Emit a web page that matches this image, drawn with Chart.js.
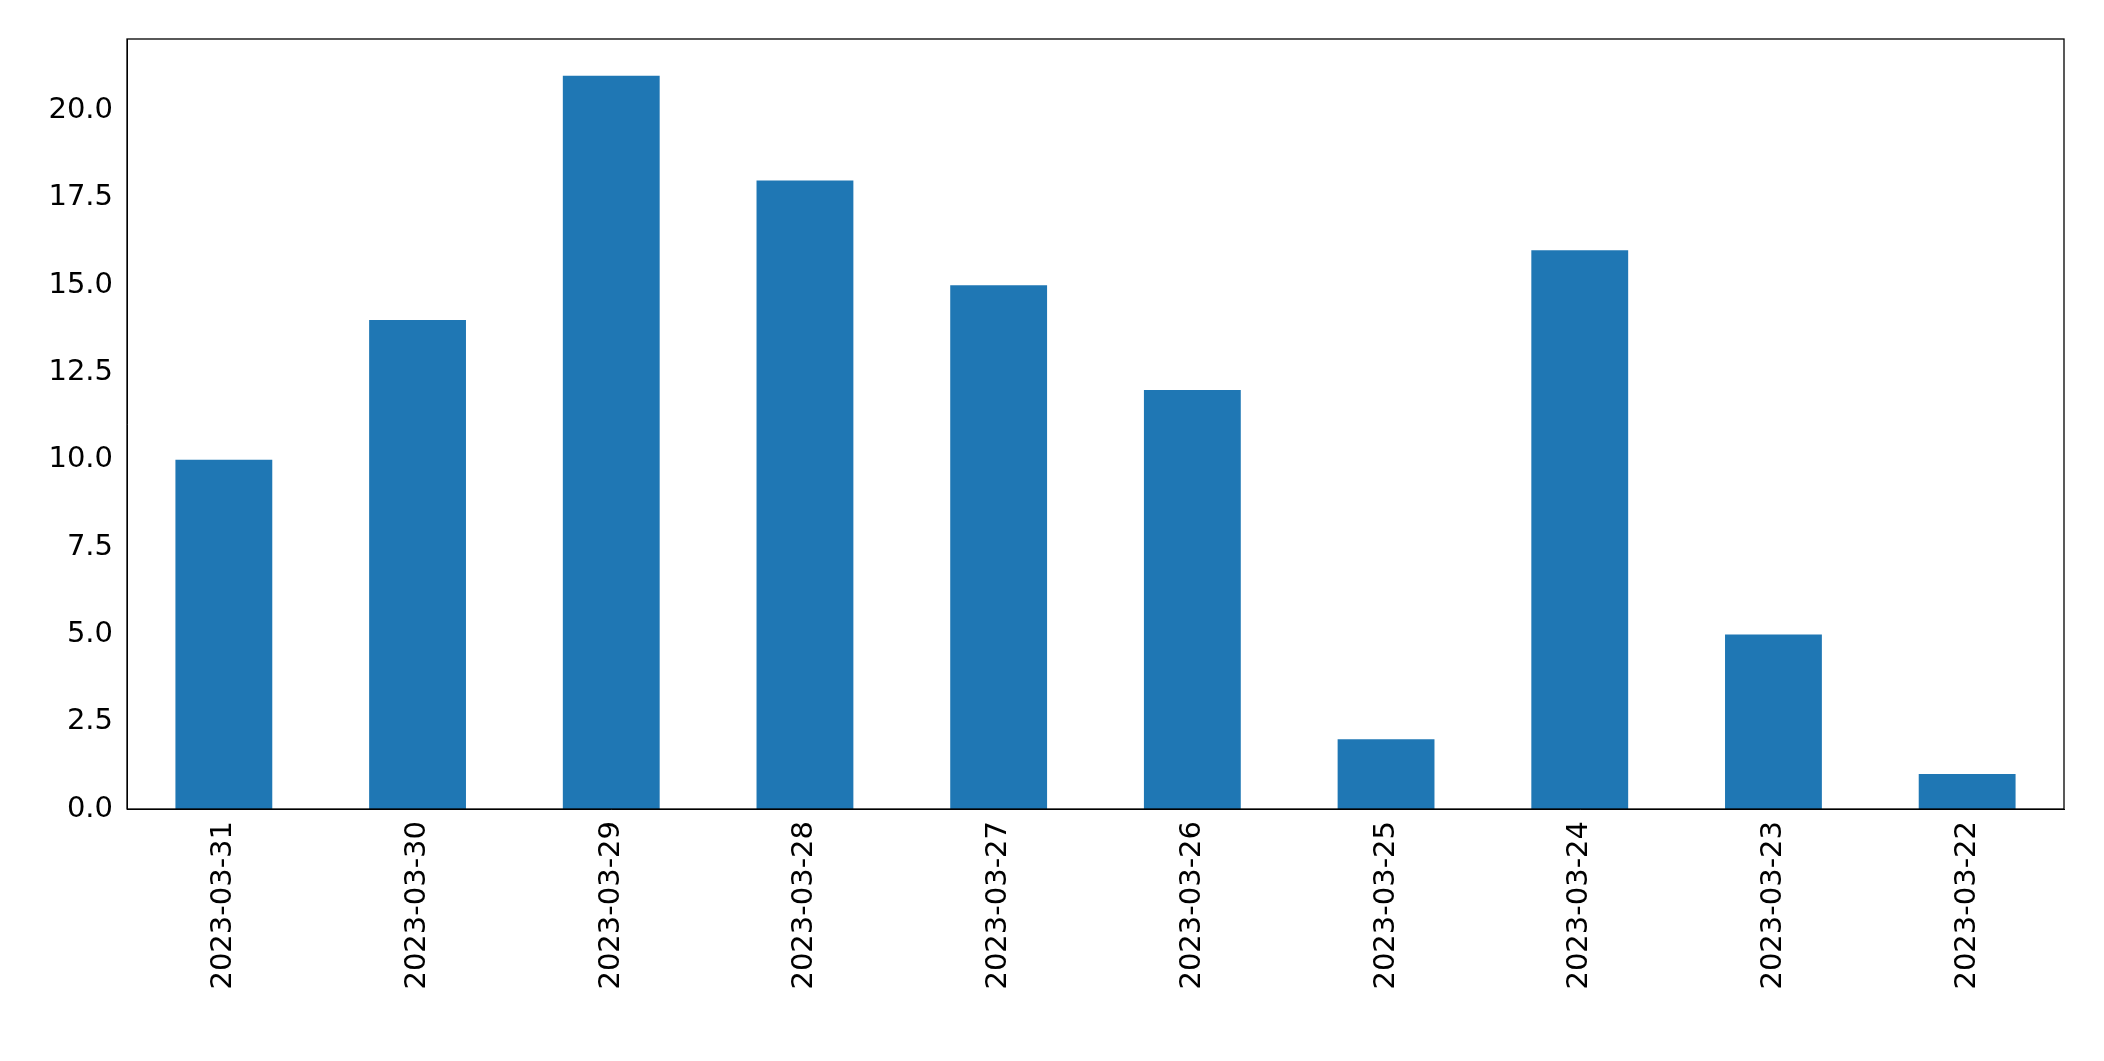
<!DOCTYPE html>
<html><head><meta charset="utf-8">
<script src="https://cdn.jsdelivr.net/npm/chart.js@4/dist/chart.umd.min.js"></script>
<style>html,body{margin:0;padding:0;background:#fff}</style>
</head><body>
<canvas id="c" width="2104" height="1061"></canvas>
<script>
const categories = ["2023-03-31","2023-03-30","2023-03-29","2023-03-28","2023-03-27","2023-03-26","2023-03-25","2023-03-24","2023-03-23","2023-03-22"];
const values = [10,14,21,18,15,12,2,16,5,1];
const yTicks = [0,2.5,5,7.5,10,12.5,15,17.5,20];

const frame = {id:'frame', afterDraw(ch){const a=ch.chartArea,c=ch.ctx;c.save();c.strokeStyle='#000';c.lineWidth=1.3;c.strokeRect(a.left,a.top,a.right-a.left,a.bottom-a.top);c.restore();}};
const font = {family:'"DejaVu Sans", sans-serif', size:29};
new Chart(document.getElementById('c'), {
  type:'bar',
  data:{labels:categories, datasets:[{data:values, backgroundColor:'#1f77b4', categoryPercentage:1, barPercentage:0.5}]},
  options:{
    responsive:false, animation:false, devicePixelRatio:1,
    layout:{padding:{top:39,right:40,left:0,bottom:0}},
    plugins:{legend:{display:false}, tooltip:{enabled:false}},
    scales:{
      x:{grid:{display:false, drawTicks:true, tickLength:8, tickColor:'#000'}, border:{color:'#000'},
         ticks:{color:'#000', font, minRotation:90, maxRotation:90, padding:4},
         afterFit(s){s.height=252;}},
      y:{min:0, max:22.05, grid:{display:false, drawTicks:true, tickLength:8, tickColor:'#000'}, border:{color:'#000'},
         afterBuildTicks(s){s.ticks=yTicks.map(v=>({value:v}));},
         ticks:{color:'#000', font, padding:6, callback:v=>Number(v).toFixed(1)},
         afterFit(s){s.width=127;}}
    }
  },
  plugins:[frame]
});
</script>
</body></html>
